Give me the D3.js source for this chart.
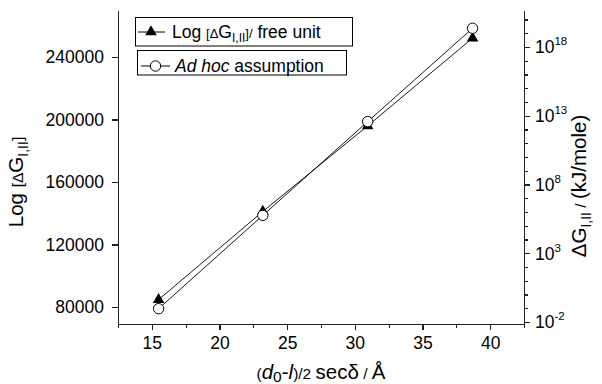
<!DOCTYPE html>
<html>
<head>
<meta charset="utf-8">
<style>
  body { margin: 0; background: #fff; }
  svg text { font-family: "Liberation Sans", Arial, sans-serif; fill: #000; }
  .axis path, .axis line { fill: none; stroke: #222; stroke-width: 1.2; shape-rendering: crispEdges; }
  .axis text { font-size: 17.5px; }
</style>
</head>
<body>
<svg width="602" height="384"></svg>
<script src="https://d3js.org/d3.v7.min.js"></script>
<script>
// data
var xValues = [15.5, 23.2, 30.95, 38.7];
var triangleValues = [84700, 141100, 195900, 252000];
var circleValues = [78900, 138600, 198600, 258300];
var xTicks = [15, 20, 25, 30, 35, 40];
var xMinorTicks = [12.5, 17.5, 22.5, 27.5, 32.5, 37.5, 42.5];
var yTicks = [80000, 120000, 160000, 200000, 240000];
var rightExponents = [-2, 3, 8, 13, 18];
var rightMinorExponents = d3.range(-2, 21);

var svg = d3.select("svg");
var plotLeft = 118, plotRight = 524, plotTop = 10, plotBottom = 324;

var x = d3.scaleLinear().domain([12.5, 42.5]).range([plotLeft, plotRight]);
var y = d3.scaleLinear().domain([69100, 270000]).range([plotBottom, plotTop]);
var yr = d3.scaleLog().domain([Math.pow(10, -2.15), Math.pow(10, 20.69)]).range([plotBottom, plotTop]);

// bottom axis
svg.append("g").attr("class", "axis")
  .attr("transform", "translate(0," + plotBottom + ")")
  .call(d3.axisBottom(x).tickValues(xMinorTicks).tickSize(4).tickSizeOuter(0).tickFormat(""));
svg.append("g").attr("class", "axis")
  .attr("transform", "translate(0," + plotBottom + ")")
  .call(d3.axisBottom(x).tickValues(xTicks).tickSize(6).tickSizeOuter(0).tickPadding(7))
  .select(".domain").remove();

// left axis
svg.append("g").attr("class", "axis")
  .attr("transform", "translate(" + plotLeft + ",0)")
  .call(d3.axisLeft(y).tickValues(yTicks).tickSize(6).tickSizeOuter(0).tickPadding(8)
    .tickFormat(d3.format("d")));

// right log axis
svg.append("g").attr("class", "axis")
  .attr("transform", "translate(" + plotRight + ",0)")
  .call(d3.axisRight(yr).tickValues(rightMinorExponents.map(function(e){ return Math.pow(10, e); }))
    .tickSize(3.5).tickSizeOuter(0).tickFormat(""));
var rAxis = svg.append("g").attr("class", "axis")
  .attr("transform", "translate(" + plotRight + ",0)")
  .call(d3.axisRight(yr).tickValues(rightExponents.map(function(e){ return Math.pow(10, e); }))
    .tickSize(6).tickSizeOuter(0).tickFormat(""));
rAxis.select(".domain").remove();
rightExponents.forEach(function(e){
  var t = svg.append("text")
    .attr("x", plotRight + 11)
    .attr("y", yr(Math.pow(10, e)) + 6.5)
    .style("font-size", "17.5px");
  t.append("tspan").text("10");
  t.append("tspan").attr("dy", -8).style("font-size", "11.5px").text(e);
});

// series lines
var line = d3.line()
  .x(function(d, i){ return x(xValues[i]); })
  .y(function(d){ return y(d); });
[triangleValues, circleValues].forEach(function(vals){
  svg.append("path").datum(vals)
    .attr("d", line)
    .attr("fill", "none")
    .attr("stroke", "#000")
    .attr("stroke-width", 0.9);
});

// markers
var tri = d3.symbol().type(d3.symbolTriangle).size(58);
svg.selectAll(".tri").data(triangleValues).enter().append("path")
  .attr("class", "tri")
  .attr("d", tri)
  .attr("transform", function(d, i){ return "translate(" + x(xValues[i]) + "," + y(d) + ")"; })
  .attr("fill", "#000");
svg.selectAll(".circ").data(circleValues).enter().append("circle")
  .attr("class", "circ")
  .attr("cx", function(d, i){ return x(xValues[i]); })
  .attr("cy", function(d){ return y(d); })
  .attr("r", 5.2)
  .attr("fill", "#fff")
  .attr("stroke", "#000")
  .attr("stroke-width", 1);

// legend
svg.append("rect").attr("x", 135.5).attr("y", 17.5).attr("width", 217).attr("height", 28.5)
  .attr("fill", "#fff").attr("stroke", "#000").attr("stroke-width", 1);
svg.append("rect").attr("x", 137.5).attr("y", 50.5).attr("width", 209).attr("height", 24.5)
  .attr("fill", "#fff").attr("stroke", "#000").attr("stroke-width", 1);

svg.append("line").attr("x1", 138).attr("x2", 165).attr("y1", 32).attr("y2", 32)
  .attr("stroke", "#000").attr("stroke-width", 1);
svg.append("path").attr("d", tri).attr("transform", "translate(151,32)").attr("fill", "#000");
svg.append("line").attr("x1", 141).attr("x2", 170).attr("y1", 66).attr("y2", 66)
  .attr("stroke", "#000").attr("stroke-width", 1);
svg.append("circle").attr("cx", 155.5).attr("cy", 66).attr("r", 5.2)
  .attr("fill", "#fff").attr("stroke", "#000").attr("stroke-width", 1);

var l1 = svg.append("text").attr("x", 172).attr("y", 38).style("font-size", "17.5px");
l1.append("tspan").text("Log ");
l1.append("tspan").style("font-size", "13px").text("[\u0394");
l1.append("tspan").text("G");
l1.append("tspan").attr("dy", 4).style("font-size", "12px").text("I,II");
l1.append("tspan").attr("dy", -4).style("font-size", "13px").text("]/");
l1.append("tspan").text(" free unit");

var l2 = svg.append("text").attr("x", 175).attr("y", 72).style("font-size", "17.5px");
l2.append("tspan").style("font-style", "italic").text("Ad hoc");
l2.append("tspan").text(" assumption");

// axis titles
var yl = svg.append("text").attr("transform", "translate(23,182) rotate(-90)")
  .attr("text-anchor", "middle").style("font-size", "20.5px");
yl.append("tspan").text("Log ");
yl.append("tspan").style("font-size", "15.5px").text("[\u0394");
yl.append("tspan").text("G");
yl.append("tspan").attr("dy", 5).style("font-size", "14px").text("I,II");
yl.append("tspan").attr("dy", -5).style("font-size", "15.5px").text("]");

var yr2 = svg.append("text").attr("transform", "translate(586,186) rotate(-90)")
  .attr("text-anchor", "middle").style("font-size", "20.5px");
yr2.append("tspan").text("\u0394G");
yr2.append("tspan").attr("dy", 5).style("font-size", "14px").text("I,II");
yr2.append("tspan").attr("dy", -5).style("font-size", "15.5px").text(" / ");
yr2.append("tspan").text("(kJ/mole)");

var xl = svg.append("text").attr("x", 321).attr("y", 379)
  .attr("text-anchor", "middle").style("font-size", "20.5px");
xl.append("tspan").style("font-size", "15.5px").text("(");
xl.append("tspan").style("font-style", "italic").text("d");
xl.append("tspan").attr("dy", 3).style("font-size", "15.5px").text("0");
xl.append("tspan").attr("dy", -3).text("-");
xl.append("tspan").style("font-style", "italic").text("l");
xl.append("tspan").style("font-size", "15.5px").text(")/2 ");
xl.append("tspan").text("sec\u03b4");
xl.append("tspan").style("font-size", "15.5px").text(" / ");
xl.append("tspan").text("\u00c5");
</script>
</body>
</html>
